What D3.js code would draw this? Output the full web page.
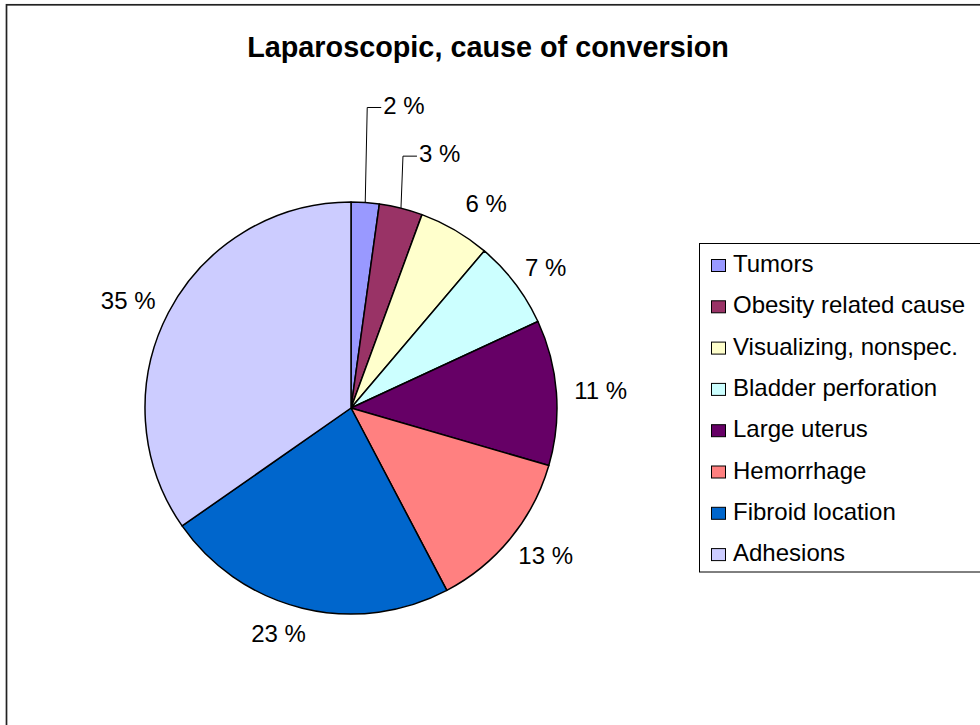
<!DOCTYPE html>
<html>
<head>
<meta charset="utf-8">
<script src="https://cdn.jsdelivr.net/npm/d3@7"></script>
<style>
  body { margin: 0; background: #fff; }
  svg text { font-family: "Liberation Sans", Arial, sans-serif; fill: #000; }
</style>
</head>
<body>
<svg id="chart" width="980" height="725"></svg>
<script>
var categories = ["Tumors", "Obesity related cause", "Visualizing, nonspec.", "Bladder perforation",
                  "Large uterus", "Hemorrhage", "Fibroid location", "Adhesions"];
var shares = [2.2, 3.4, 5.6, 6.9, 11.4, 12.8, 23.0, 34.7];
var colors = ["#9999FF", "#993366", "#FFFFCC", "#CCFFFF", "#660066", "#FF8080", "#0066CC", "#CCCCFF"];
var title = "Laparoscopic, cause of conversion";

var svg = d3.select("#chart"),
    cx = 351,
    cy = 408,
    radius = 206,
    labelGap = 18,
    capHalf = 8.5;

// outer chart frame (runs off the right and bottom of the window)
svg.append("rect")
    .attr("x", 6.5)
    .attr("y", 4.8)
    .attr("width", 1100)
    .attr("height", 1000)
    .attr("fill", "none")
    .attr("stroke", "#222")
    .attr("stroke-width", 1.7);

svg.append("text")
    .attr("x", 488)
    .attr("y", 57)
    .attr("text-anchor", "middle")
    .style("font-size", "28.8px")
    .style("font-weight", "bold")
    .text(title);

var data = categories.map(function (c, i) {
    return { name: c, value: shares[i], color: colors[i] };
});

var pie = d3.pie()
    .sort(null)
    .value(function (d) { return d.value; });

var arcs = pie(data);

var arc = d3.arc()
    .innerRadius(0)
    .outerRadius(radius);

var g = svg.append("g")
    .attr("transform", "translate(" + cx + "," + cy + ")");

g.selectAll("path.slice")
    .data(arcs)
    .enter().append("path")
    .attr("class", "slice")
    .attr("d", arc)
    .attr("fill", function (d) { return d.data.color; })
    .attr("stroke", "#000")
    .attr("stroke-width", 1.5)
    .attr("stroke-linejoin", "round");

function midAngle(d) { return (d.startAngle + d.endAngle) / 2; }

// the two thin slices have their labels pulled up with leader lines,
// two more labels were dragged a little off their default spot
var leaderRise = { 0: 95, 1: 52 };
var labelNudge = { 2: [12, -4], 6: [-13, 0] };

arcs.forEach(function (d, i) {
    var a = midAngle(d),
        sx = Math.sin(a),
        sy = -Math.cos(a),
        txt = Math.round(d.data.value) + " %";

    if (leaderRise[i] !== undefined) {
        var ex = sx * radius,
            ey = sy * radius,
            elbowY = ey - leaderRise[i];
        g.append("path")
            .attr("d", "M" + ex + "," + ey + "L" + (ex + 2) + "," + elbowY + "H" + (ex + 16))
            .attr("fill", "none")
            .attr("stroke", "#000")
            .attr("stroke-width", 1);
        g.append("text")
            .attr("x", ex + 18)
            .attr("y", elbowY + 6)
            .style("font-size", "24px")
            .text(txt);
    } else {
        var t = g.append("text")
            .attr("text-anchor", "middle")
            .style("font-size", "24px")
            .text(txt);
        var w = t.node().getComputedTextLength(),
            nudge = labelNudge[i] || [0, 0],
            r = radius + labelGap,
            lx = sx * r + sx * w / 2 + nudge[0],
            ly = sy * r + sy * capHalf + nudge[1];
        t.attr("x", lx).attr("y", ly + capHalf);
    }
});

// legend
var legend = svg.append("g");

legend.append("rect")
    .attr("x", 699.5)
    .attr("y", 243.5)
    .attr("width", 400)
    .attr("height", 328.5)
    .attr("fill", "#fff")
    .attr("stroke", "#000")
    .attr("stroke-width", 1);

var rowY = d3.scalePoint()
    .domain(categories)
    .range([272, 272 + 41.3 * (categories.length - 1)]);

var item = legend.selectAll("g.item")
    .data(data)
    .enter().append("g")
    .attr("class", "item")
    .attr("transform", function (d) { return "translate(0," + rowY(d.name) + ")"; });

item.append("rect")
    .attr("x", 711.5)
    .attr("y", -12.5)
    .attr("width", 14)
    .attr("height", 12)
    .attr("fill", function (d) { return d.color; })
    .attr("stroke", "#000")
    .attr("stroke-width", 1);

item.append("text")
    .attr("x", 733)
    .attr("y", 0)
    .style("font-size", "24px")
    .text(function (d) { return d.name; });
</script>
</body>
</html>
